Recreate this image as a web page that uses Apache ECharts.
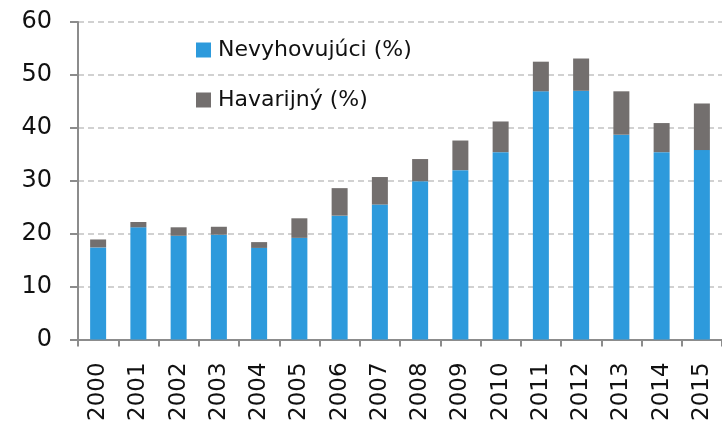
<!DOCTYPE html>
<html>
<head>
<meta charset="utf-8">
<script src="https://cdn.jsdelivr.net/npm/echarts@6/dist/echarts.min.js"></script>
<style>
  html, body { margin: 0; padding: 0; background: #fff; }
  #chart { width: 722px; height: 424px; }
</style>
</head>
<body>
<div id="chart"></div>
<script>
const years = ['2000', '2001', '2002', '2003', '2004', '2005', '2006', '2007',
  '2008', '2009', '2010', '2011', '2012', '2013', '2014', '2015'];
// Nevyhovujúci (%)
const nevyhovujuci = [17.4, 21.2, 19.6, 19.8, 17.3, 19.2, 23.4, 25.5,
  29.9, 32.0, 35.4, 46.9, 47.0, 38.7, 35.4, 35.8];
// Havarijný (%) - stacked on top
const havarijny = [1.5, 1.0, 1.6, 1.5, 1.1, 3.7, 5.2, 5.2,
  4.2, 5.6, 5.8, 5.6, 6.1, 8.2, 5.5, 8.8];

const font = 'DejaVu Sans';

const chart = echarts.init(document.getElementById('chart'));

const option = {
  animation: false,
  grid: {
    left: 78,
    right: 0,
    top: 22,
    bottom: 81
  },
  legend: {
    orient: 'vertical',
    left: 196,
    top: 39,
    padding: 0,
    itemWidth: 15,
    itemHeight: 15,
    itemGap: 28,
    icon: 'rect',
    textStyle: {
      fontFamily: font,
      fontSize: 22,
      color: '#111',
      padding: [0, 0, 0, 2]
    },
    data: ['Nevyhovujúci (%)', 'Havarijný (%)']
  },
  xAxis: {
    type: 'category',
    data: years,
    axisLine: { lineStyle: { color: '#8c8c8c', width: 2 } },
    axisTick: { show: true, length: 7, interval: 0, lineStyle: { color: '#8c8c8c', width: 2 } },
    axisLabel: {
      interval: 0,
      rotate: 90,
      margin: 23,
      fontFamily: font,
      fontSize: 23,
      color: '#111'
    }
  },
  yAxis: {
    type: 'value',
    min: 0,
    max: 60,
    interval: 10,
    axisLine: { show: true, lineStyle: { color: '#8c8c8c', width: 2 } },
    axisTick: { show: true, length: 8, lineStyle: { color: '#8c8c8c', width: 2 } },
    axisLabel: {
      margin: 26,
      fontFamily: font,
      fontSize: 24,
      color: '#111'
    },
    splitLine: {
      lineStyle: { color: '#c2c2c2', type: [6, 4], width: 1.5 }
    }
  },
  series: [
    {
      name: 'Nevyhovujúci (%)',
      type: 'bar',
      stack: 'total',
      barWidth: 16,
      itemStyle: { color: '#2d9adc' },
      data: nevyhovujuci
    },
    {
      name: 'Havarijný (%)',
      type: 'bar',
      stack: 'total',
      barWidth: 16,
      itemStyle: { color: '#736f6e' },
      data: havarijny
    }
  ]
};

chart.setOption(option);
</script>
</body>
</html>
